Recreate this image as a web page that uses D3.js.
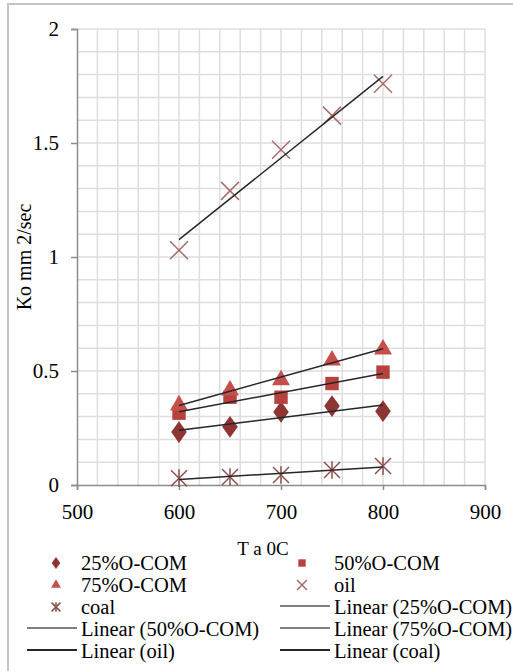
<!DOCTYPE html>
<html>
<head>
<meta charset="utf-8">
<script src="https://cdn.jsdelivr.net/npm/d3@7"></script>
<style>
  body { margin: 0; background: #fff; }
  text { font-family: "Liberation Serif", "Times New Roman", serif; fill: #000; }
</style>
</head>
<body>
<script>
// data
var temps = [600, 650, 700, 750, 800];
var com25 = [0.232, 0.255, 0.32, 0.346, 0.324];
var com50 = [0.315, 0.385, 0.385, 0.445, 0.495];
var com75 = [0.35, 0.415, 0.46, 0.547, 0.595];
var oil = [1.03, 1.29, 1.47, 1.62, 1.76];
var coal = [0.03, 0.035, 0.044, 0.066, 0.083];
var xTicks = [500, 600, 700, 800, 900];
var yTicks = [0, 0.5, 1, 1.5, 2];

var width = 513, height = 671;

var svg = d3.select("body").append("svg")
    .attr("width", width)
    .attr("height", height);

// outer frame
svg.append("rect")
    .attr("x", 8).attr("y", 4)
    .attr("width", 520).attr("height", 680)
    .attr("fill", "none")
    .attr("stroke", "#c4c4c4")
    .attr("stroke-width", 2);

var x = d3.scaleLinear().domain([500, 900]).range([77, 485]);
var y = d3.scaleLinear().domain([0, 2]).range([485, 29]);

// grid
var grid = svg.append("g");
grid.selectAll(".vg")
    .data(d3.range(520, 901, 20))
    .enter().append("line")
    .attr("x1", function(d){ return x(d); })
    .attr("x2", function(d){ return x(d); })
    .attr("y1", y(0)).attr("y2", y(2))
    .attr("stroke", "#dedede").attr("stroke-width", 1.5);
grid.selectAll(".hg")
    .data(d3.range(1, 21).map(function(i){ return i / 10; }))
    .enter().append("line")
    .attr("x1", x(500)).attr("x2", x(900))
    .attr("y1", function(d){ return y(d); })
    .attr("y2", function(d){ return y(d); })
    .attr("stroke", "#dedede").attr("stroke-width", 1.5);

// axes
var xAxis = svg.append("g")
    .attr("transform", "translate(0," + y(0) + ")")
    .call(d3.axisBottom(x).tickValues(xTicks).tickSize(5).tickPadding(14));
var yAxis = svg.append("g")
    .attr("transform", "translate(" + x(500) + ",0)")
    .call(d3.axisLeft(y).tickValues(yTicks).tickSize(6).tickPadding(12)
        .tickFormat(function(d){ return d; }));
[xAxis, yAxis].forEach(function(a){
    a.select(".domain").attr("stroke", "#8c8c8c").attr("stroke-width", 1.5);
    a.selectAll(".tick line").attr("stroke", "#8c8c8c").attr("stroke-width", 1.5);
    a.selectAll("text").attr("font-size", 21).attr("fill", "#000");
});

// axis titles
svg.append("text")
    .attr("x", 263).attr("y", 555)
    .attr("text-anchor", "middle")
    .attr("font-size", 19)
    .text("T a 0C");
svg.append("text")
    .attr("transform", "translate(31,257) rotate(-90)")
    .attr("text-anchor", "middle")
    .attr("font-size", 20)
    .text("Ko mm 2/sec");

// trend lines (least squares)
function fit(xs, ys){
    var mx = d3.mean(xs), my = d3.mean(ys);
    var sxy = d3.sum(xs, function(v, i){ return (v - mx) * (ys[i] - my); });
    var sxx = d3.sum(xs, function(v){ return (v - mx) * (v - mx); });
    var b = sxy / sxx, a = my - b * mx;
    return [[xs[0], a + b * xs[0]], [xs[xs.length - 1], a + b * xs[xs.length - 1]]];
}

var line = d3.line()
    .x(function(d){ return x(d[0]); })
    .y(function(d){ return y(d[1]); });

var seriesList = [
    { name: "25%O-COM", vals: com25, color: "#8e3533", sym: d3.symbolDiamond, size: 135 },
    { name: "50%O-COM", vals: com50, color: "#b6423f", sym: d3.symbolSquare, size: 180 },
    { name: "75%O-COM", vals: com75, color: "#c64f4c", sym: d3.symbolTriangle, size: 140 },
    { name: "oil", vals: oil, color: "#a86a68", sym: "x", size: 9 },
    { name: "coal", vals: coal, color: "#8e4c4c", sym: "star", size: 8 }
];

function drawMarker(g, s, cx, cy, scale){
    if (s.sym === "x" || s.sym === "star") {
        var r = s.size * scale;
        var segs = [[-r, -r, r, r], [-r, r, r, -r]];
        if (s.sym === "star") segs.push([0, -r * 1.1, 0, r * 1.1]);
        segs.forEach(function(p){
            g.append("line")
                .attr("x1", cx + p[0]).attr("y1", cy + p[1])
                .attr("x2", cx + p[2]).attr("y2", cy + p[3])
                .attr("stroke", s.color).attr("stroke-width", 1.5);
        });
    } else {
        var sym = d3.symbol().type(s.sym).size(s.size * scale * scale);
        g.append("path")
            .attr("d", sym())
            .attr("transform", "translate(" + cx + "," + cy + ")" +
                (s.sym === d3.symbolDiamond ? " scale(1.25,1)" : ""))
            .attr("fill", s.color);
    }
}

// markers
seriesList.forEach(function(s){
    var g = svg.append("g");
    temps.forEach(function(t, i){
        drawMarker(g, s, x(t), y(s.vals[i]), 1);
    });
});

// trend lines on top
seriesList.forEach(function(s){
    svg.append("path")
        .datum(fit(temps, s.vals))
        .attr("d", line)
        .attr("fill", "none")
        .attr("stroke", "#262626")
        .attr("stroke-width", 1.5);
});

// legend
var legendItems = [
    { label: "25%O-COM", marker: seriesList[0] },
    { label: "50%O-COM", marker: seriesList[1] },
    { label: "75%O-COM", marker: seriesList[2] },
    { label: "oil", marker: seriesList[3] },
    { label: "coal", marker: seriesList[4] },
    { label: "Linear (25%O-COM)", lineColor: "#7f7f7f" },
    { label: "Linear (50%O-COM)", lineColor: "#7f7f7f" },
    { label: "Linear (75%O-COM)", lineColor: "#7f7f7f" },
    { label: "Linear (oil)", lineColor: "#262626" },
    { label: "Linear (coal)", lineColor: "#262626" }
];

var legend = svg.append("g");
legendItems.forEach(function(it, i){
    var col = i % 2, row = Math.floor(i / 2);
    var tx = col === 0 ? 81 : 334;
    var by = 570 + row * 22;
    var g = legend.append("g");
    if (it.marker) {
        drawMarker(g, it.marker, col === 0 ? 56 : 302, by - 7, 0.55);
    } else {
        g.append("line")
            .attr("x1", tx - 54).attr("x2", tx - 4)
            .attr("y1", by - 8).attr("y2", by - 8)
            .attr("stroke", it.lineColor).attr("stroke-width", 2);
    }
    g.append("text")
        .attr("x", tx).attr("y", by)
        .attr("font-size", 20.5)
        .text(it.label);
});
</script>
</body>
</html>
